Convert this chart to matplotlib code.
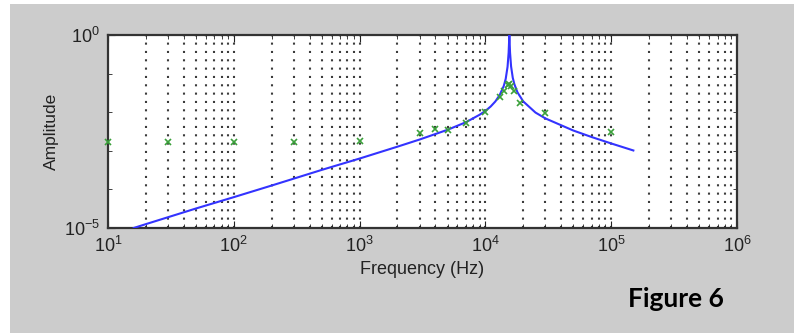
import matplotlib
matplotlib.use("Agg")
import matplotlib.pyplot as plt
from matplotlib.patches import Rectangle
import numpy as np

# Model response curve
curve_freq = [16, 20, 50, 100, 200, 500, 1000, 2000, 3000, 5000, 7000, 9000,
              10000, 11000, 12000, 13000, 14000, 14500, 15000, 15300, 15500,
              15700, 16000, 16500, 17000, 18000, 20000, 25000, 30000, 50000,
              70000, 100000, 150000]
curve_amp = [1.0e-5, 1.26e-5, 3.2e-5, 6.3e-5, 1.26e-4, 3.2e-4, 6.3e-4, 1.28e-3,
             1.96e-3, 3.5e-3, 5.5e-3, 8.6e-3, 1.08e-2, 1.4e-2, 1.9e-2, 2.8e-2,
             4.8e-2, 7.3e-2, 0.15, 0.35, 1.0, 0.35, 0.154, 0.078, 0.053,
             0.0325, 0.019, 9.8e-3, 6.9e-3, 3.35e-3, 2.27e-3, 1.55e-3, 1.02e-3]

# Measured points (green x markers)
meas_freq = [10, 30, 100, 300, 1000, 3000, 4000, 5000, 7000, 10000, 13000,
             14000, 15000, 15500, 16000, 17000, 19000, 30000, 100000]
meas_amp = [1.7e-3, 1.7e-3, 1.7e-3, 1.7e-3, 1.8e-3, 2.9e-3, 3.7e-3, 3.5e-3,
            5.2e-3, 1.0e-2, 2.5e-2, 3.5e-2, 5.0e-2, 5.5e-2, 4.8e-2, 3.5e-2,
            1.74e-2, 9.5e-3, 3.1e-3]

x_ticks = [1e1, 1e2, 1e3, 1e4, 1e5, 1e6]
x_ticklabels = [r'$\mathregular{10^{%d}}$' % k for k in range(1, 7)]
y_ticks = [1e-5, 1e0]
y_ticklabels = [r'$\mathregular{10^{-5}}$', r'$\mathregular{10^{0}}$']

plt.rcParams['font.family'] = ['Liberation Sans', 'DejaVu Sans']
plt.rcParams['mathtext.default'] = 'regular'

W, H = 794, 333
fig = plt.figure(figsize=(W / 100, H / 100), dpi=100, facecolor='white')
# gray panel background
bg = Rectangle((10 / W, 0), 1 - 10 / W, 1 - 4 / H,
               transform=fig.transFigure, facecolor='#cccccc',
               edgecolor='none', zorder=-10)
fig.patches.append(bg)

ax = fig.add_axes([108 / W, (H - 228) / H, 629 / W, 193 / H])
ax.set_zorder(5)
ax.set_facecolor('white')
ax.set_xscale('log')
ax.set_yscale('log')
ax.set_xlim(1e1, 1e6)
ax.set_ylim(1e-5, 1e0)

# vertical dotted grid at every 1..9 x decade
for k in range(1, 6):
    for m in range(1, 10):
        v = m * 10 ** k
        if 1e1 < v < 1e6:
            ax.axvline(v, color='#3c3c3c', lw=1.5, ls=(0, (1.0, 3.0)), zorder=1)

ax.plot(curve_freq, curve_amp, color='#3333ff', lw=1.5, zorder=3)
ax.plot(meas_freq, meas_amp, ls='none', marker='x', color='#3aa03a',
        ms=5, mew=1.2, zorder=4, clip_on=False)

ax.set_xticks(x_ticks)
ax.set_xticklabels(x_ticklabels)
ax.set_yticks(y_ticks)
ax.set_yticklabels(y_ticklabels)
ax.yaxis.set_minor_locator(matplotlib.ticker.FixedLocator([1e-4, 1e-3, 1e-2, 1e-1]))
ax.yaxis.set_minor_formatter(matplotlib.ticker.NullFormatter())
ax.tick_params(axis='both', which='major', direction='in', length=5,
               labelsize=13, colors='#222222', pad=6)
ax.tick_params(axis='both', which='minor', direction='in', length=3,
               colors='#222222')
ax.tick_params(top=True, right=True, which='both')

for s in ax.spines.values():
    s.set_linewidth(1.6)
    s.set_color('#333333')

ax.set_xlabel('Frequency (Hz)', fontsize=13, color='#222222', labelpad=3)
ax.set_ylabel('Amplitude', fontsize=12.5, color='#222222', labelpad=3)

fig.text(628 / W, 1 - 307 / H, 'Figure 6', fontsize=19, fontweight='bold',
         family=['Lato', 'DejaVu Sans'], color='black', ha='left', va='baseline')

fig.savefig('out.png', dpi=100, facecolor=fig.get_facecolor())
